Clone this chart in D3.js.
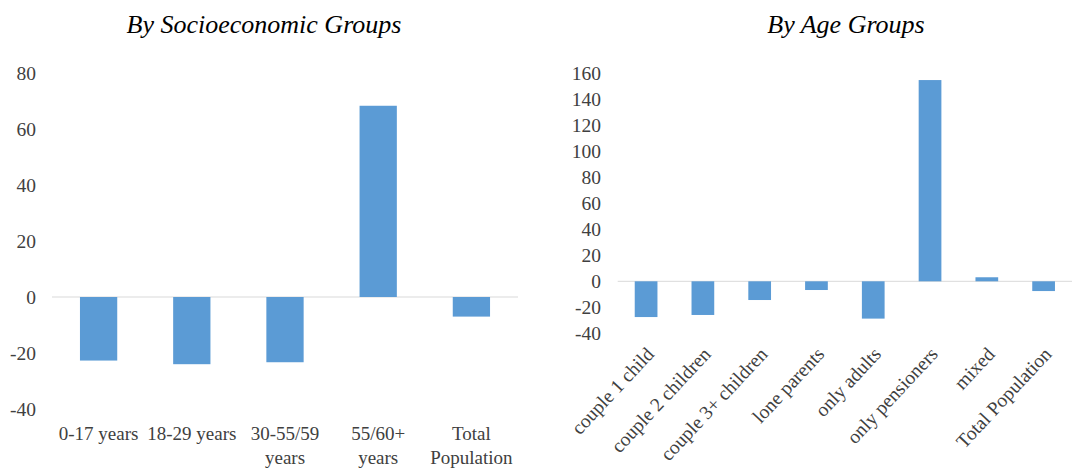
<!DOCTYPE html>
<html><head><meta charset="utf-8">
<script src="https://cdn.jsdelivr.net/npm/d3@7"></script>
<style>
body{margin:0;background:#fff;}
</style></head>
<body><svg id="c" width="1073" height="470"></svg>
<script>
const socioCategories = [["0-17 years"],["18-29 years"],["30-55/59","years"],["55/60+","years"],["Total","Population"]];
const socioValues = [-22.7, -24.0, -23.3, 68.3, -7.0];
const socioTicks = [-40,-20,0,20,40,60,80];

const ageCategories = ["couple 1 child","couple 2 children","couple 3+ children","lone parents","only adults","only pensioners","mixed","Total Population"];
const ageValues = [-27.5, -25.9, -14.4, -6.7, -28.7, 154.8, 3.1, -7.5];
const ageTicks = [-40,-20,0,20,40,60,80,100,120,140,160];

const titles = ["By Socioeconomic Groups","By Age Groups"];
const barColor = "#5b9bd5";
const FONT = "'Liberation Serif', 'DejaVu Serif', serif";
const svg = d3.select("#c");

function panel(opt){
  const g = svg.append("g");
  const x = d3.scaleBand().domain(d3.range(opt.values.length)).range([opt.x0,opt.x1]).paddingInner(0.6).paddingOuter(0.3);
  const y = d3.scaleLinear().domain(opt.domain).range([opt.yb,opt.yt]);
  g.append("line").attr("x1",opt.x0).attr("x2",opt.x1).attr("y1",y(0)).attr("y2",y(0)).attr("stroke","#d9d9d9").attr("stroke-width",1);
  g.selectAll("rect").data(opt.values).join("rect")
    .attr("x",(d,i)=>x(i)).attr("width",x.bandwidth())
    .attr("y",d=>y(Math.max(0,d))).attr("height",d=>Math.abs(y(d)-y(0)))
    .attr("fill",barColor);
  const ax = d3.axisLeft(y).tickValues(opt.ticks).tickSize(0).tickPadding(0).tickFormat(d=>String(d));
  const ga = g.append("g").attr("transform",`translate(${opt.labelX},0)`).call(ax);
  ga.select(".domain").remove();
  ga.attr("font-family",null).attr("font-size",null);
  ga.selectAll("text").style("font-family",FONT).style("font-size","19.5px").attr("fill","#404040");
  g.append("text").attr("x",opt.titleX).attr("y",33).attr("text-anchor","middle")
    .style("font-family",FONT).style("font-size","26px").style("font-style","italic").attr("fill","#000").text(opt.title);
  return {g,x,y};
}

const p1 = panel({values:socioValues,domain:[-40,80],ticks:socioTicks,x0:52,x1:518,yb:409,yt:73,labelX:36,titleX:264,title:titles[0]});
p1.g.selectAll(".xl").data(socioCategories).join("text").attr("class","xl")
  .attr("text-anchor","middle").style("font-family",FONT).style("font-size","19px").attr("fill","#404040")
  .attr("x",(d,i)=>p1.x(i)+p1.x.bandwidth()/2)
  .each(function(d){
    d3.select(this).selectAll("tspan").data(d).join("tspan")
      .attr("x",d3.select(this).attr("x")).attr("y",(t,j)=>440+j*24).text(t=>t);
  });

const p2 = panel({values:ageValues,domain:[-40,160],ticks:ageTicks,x0:617.7,x1:1072,yb:333.3,yt:73.3,labelX:601,titleX:846,title:titles[1]});
p2.g.selectAll(".xl").data(ageCategories).join("text").attr("class","xl")
  .attr("text-anchor","end").style("font-family",FONT).style("font-size","19.5px").attr("fill","#404040")
  .attr("transform",(d,i)=>`translate(${p2.x(i)+p2.x.bandwidth()/2+9},${355}) rotate(-47)`)
  .text(d=>d);
</script></body></html>
